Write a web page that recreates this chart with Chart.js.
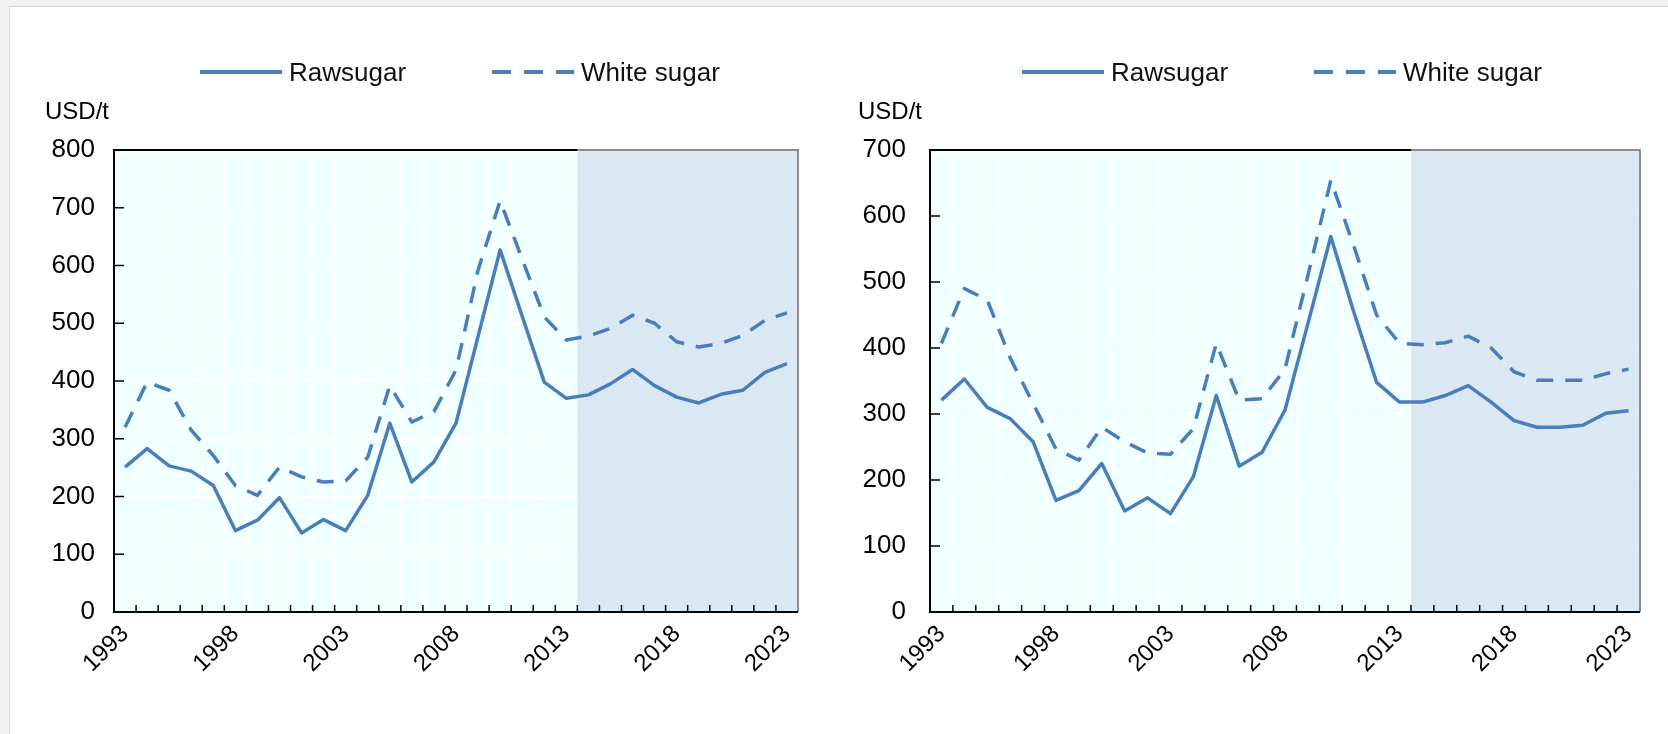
<!DOCTYPE html>
<html>
<head>
<meta charset="utf-8">
<script src="https://cdn.jsdelivr.net/npm/chart.js@4.4.1/dist/chart.umd.min.js"></script>
<style>
  html, body { margin: 0; padding: 0; }
  body { width: 1668px; height: 734px; background: #f2f2f2; position: relative; overflow: hidden;
         font-family: "Liberation Sans", Arial, sans-serif; }
  #panel { position: absolute; left: 9px; top: 6px; right: 0; bottom: 0; background: #fff;
           border-left: 1px solid #d9d9d9; border-top: 1px solid #d9d9d9; }
  canvas { position: absolute; top: 0; }
  .unit { position: absolute; top: 99px; font-size: 24px; line-height: 24px; color: #000; }
  .legend { position: absolute; top: 57px; height: 30px; display: flex; align-items: center;
            font-size: 26px; color: #111; white-space: nowrap; }
  .legend .item { display: flex; align-items: center; }
  .legend .item + .item { margin-left: 86px; }
  .legend svg { margin-right: 7px; }
</style>
</head>
<body>
<div id="panel"></div>
<canvas id="left" width="834" height="734" style="left:0"></canvas>
<canvas id="right" width="834" height="734" style="left:834px"></canvas>
<div class="unit" style="left:45px">USD/t</div>
<div class="unit" style="left:858px">USD/t</div>
<div class="legend" id="legend-left" style="left:200px"></div>
<div class="legend" id="legend-right" style="left:1022px"></div>
<script>
const years = [1993, 1994, 1995, 1996, 1997, 1998, 1999, 2000, 2001, 2002, 2003, 2004, 2005, 2006, 2007,
  2008, 2009, 2010, 2011, 2012, 2013, 2014, 2015, 2016, 2017, 2018, 2019, 2020, 2021, 2022, 2023];
const seriesNames = ["Rawsugar", "White sugar"];

// left panel
const rawLeft = [251, 283, 253, 244, 219, 141, 159, 198, 137, 160, 141, 202, 327, 225, 260,
  327, 477, 627, 512, 398, 370, 376, 395, 420, 392, 372, 362, 377, 384, 415, 430];
const whiteLeft = [320, 398, 384, 315, 271, 219, 202, 251, 234, 225, 227, 268, 392, 329, 347,
  419, 592, 712, 611, 511, 471, 478, 491, 514, 500, 468, 459, 465, 479, 505, 518];
const leftMax = 800;

// right panel
const rawRight = [321, 353, 310, 293, 258, 169, 184, 225, 153, 173, 149, 205, 328, 221, 242,
  306, 437, 569, 455, 348, 318, 318, 328, 343, 318, 290, 280, 280, 283, 301, 305];
const whiteRight = [407, 490, 473, 385, 316, 247, 230, 280, 258, 241, 239, 278, 407, 321, 323,
  368, 510, 654, 555, 450, 407, 405, 408, 418, 400, 364, 351, 351, 351, 361, 368];
const rightMax = 700;

const yStep = 100;
const projFrom = 2014;   // shaded projection period starts here
const blue = "#4a7ebb";
const dash = [17, 12];
const font = "'Liberation Sans', Arial, sans-serif";

function shadeStart(x) {
  const i = years.indexOf(projFrom);
  return (x.getPixelForValue(i - 1) + x.getPixelForValue(i)) / 2;
}

const plotFrame = {
  id: "plotFrame",
  beforeDraw(chart) {
    const { ctx, chartArea: a } = chart;
    ctx.save();
    ctx.fillStyle = "#f0ffff";
    ctx.fillRect(a.left, a.top, a.right - a.left, a.bottom - a.top);
    ctx.restore();
  },
  beforeDatasetsDraw(chart) {
    const { ctx, chartArea: a } = chart;
    const sx = shadeStart(chart.scales.x);
    ctx.save();
    ctx.fillStyle = "rgba(193,206,229,0.47)";
    ctx.fillRect(sx, a.top, a.right - sx, a.bottom - a.top);
    ctx.restore();
  },
  afterDatasetsDraw(chart) {
    const { ctx, chartArea: a, scales: { x, y } } = chart;
    const sx = shadeStart(x);
    ctx.save();
    // inward tick marks
    ctx.strokeStyle = "#000";
    ctx.lineWidth = 1.5;
    ctx.beginPath();
    y.ticks.forEach((t) => {
      if (t.value <= y.min || t.value >= y.max) return;
      const py = y.getPixelForValue(t.value);
      ctx.moveTo(a.left, py);
      ctx.lineTo(a.left + 10, py);
    });
    for (let i = 1; i < years.length; i++) {
      const px = (x.getPixelForValue(i - 1) + x.getPixelForValue(i)) / 2;
      ctx.moveTo(px, a.bottom);
      ctx.lineTo(px, a.bottom - 7);
    }
    ctx.stroke();
    // grey outline of projection box
    ctx.strokeStyle = "#8c8c8c";
    ctx.lineWidth = 2;
    ctx.beginPath();
    ctx.moveTo(sx, a.top);
    ctx.lineTo(a.right, a.top);
    ctx.lineTo(a.right, a.bottom);
    ctx.stroke();
    // black axes
    ctx.strokeStyle = "#000";
    ctx.beginPath();
    ctx.moveTo(sx, a.top);
    ctx.lineTo(a.left, a.top);
    ctx.lineTo(a.left, a.bottom);
    ctx.lineTo(a.right, a.bottom);
    ctx.stroke();
    ctx.restore();
  },
};

function makeChart(id, raw, white, max, pad, tickPad) {
  return new Chart(document.getElementById(id), {
    type: "line",
    data: {
      labels: years.map(String),
      datasets: [
        { label: seriesNames[0], data: raw, borderColor: blue, borderWidth: 3.5 },
        { label: seriesNames[1], data: white, borderColor: blue, borderWidth: 3.5, borderDash: dash },
      ],
    },
    options: {
      responsive: false,
      animation: false,
      layout: { padding: pad },
      plugins: { legend: { display: false }, tooltip: { enabled: false } },
      elements: { point: { radius: 0 }, line: { tension: 0, borderJoinStyle: "round" } },
      scales: {
        x: {
          offset: true,
          grid: { color: "#ffffff", lineWidth: 1.5, drawTicks: false, offset: true },
          border: { display: false },
          ticks: {
            autoSkip: false, maxRotation: 45, minRotation: 45, padding: 8, color: "#000",
            font: { family: font, size: 24 },
            callback: (v, i) => (i % 5 === 0 ? String(years[i]) : ""),
          },
          afterFit: (s) => { s.height = 100; },
        },
        y: {
          min: 0, max,
          grid: { color: "#ffffff", lineWidth: 1.5, drawTicks: false },
          border: { display: false },
          ticks: { stepSize: yStep, padding: tickPad, color: "#000", font: { family: font, size: 26 } },
          afterFit: (s) => { s.width = 72; },
        },
      },
    },
    plugins: [plotFrame],
  });
}

function buildLegend(id) {
  const el = document.getElementById(id);
  el.innerHTML = seriesNames.map((name, i) => `
    <div class="item">
      <svg width="82" height="8"><line x1="0" y1="4" x2="82" y2="4" stroke="${blue}" stroke-width="4"
        ${i === 1 ? 'stroke-dasharray="19 13"' : ""}/></svg><span>${name}</span>
    </div>`).join("");
}

makeChart("left", rawLeft, whiteLeft, leftMax, { left: 42, right: 36, top: 150, bottom: 22 }, 19);
makeChart("right", rawRight, whiteRight, rightMax, { left: 24, right: 28, top: 150, bottom: 22 }, 24);
buildLegend("legend-left");
buildLegend("legend-right");
</script>
</body>
</html>
